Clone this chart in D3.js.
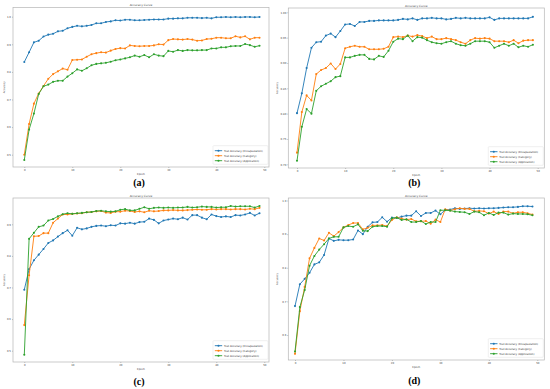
<!DOCTYPE html>
<html><head><meta charset="utf-8">
<script src="https://cdn.jsdelivr.net/npm/d3@7"></script>
<style>body{margin:0;background:#fff}svg{display:block}</style>
</head><body><svg id="c" width="550" height="389"></svg>
<script>
const epochs = [0,1,2,3,4,5,6,7,8,9,10,11,12,13,14,15,16,17,18,19,20,21,22,23,24,25,26,27,28,29,30,31,32,33,34,35,36,37,38,39,40,41,42,43,44,45,46,47,48,49];
const xTicks = [0,10,20,30,40,50];
const seriesNames = ["Test Accuracy (Encapsulation)","Test Accuracy (Category)","Test Accuracy (Application)"];
const colors = ["#1f77b4","#ff7f0e","#2ca02c"];
const captions = ["(a)","(b)","(c)","(d)"];

const aEnc = [0.836,0.871,0.907,0.913,0.928,0.935,0.938,0.947,0.949,0.958,0.963,0.967,0.965,0.967,0.970,0.976,0.976,0.981,0.983,0.987,0.986,0.989,0.989,0.987,0.987,0.988,0.989,0.990,0.990,0.990,0.993,0.993,0.994,0.994,0.996,0.996,0.996,0.995,0.996,0.994,0.998,0.998,0.999,0.998,0.999,0.998,0.999,0.999,0.998,0.999];
const aCat = [0.500,0.611,0.685,0.722,0.749,0.775,0.792,0.802,0.812,0.808,0.843,0.844,0.845,0.855,0.864,0.868,0.871,0.870,0.877,0.883,0.886,0.885,0.896,0.894,0.893,0.894,0.894,0.896,0.900,0.899,0.915,0.919,0.918,0.917,0.919,0.917,0.913,0.914,0.919,0.920,0.924,0.924,0.922,0.922,0.929,0.925,0.929,0.918,0.924,0.924];
const aApp = [0.481,0.591,0.649,0.720,0.748,0.754,0.764,0.768,0.768,0.783,0.795,0.809,0.804,0.813,0.824,0.829,0.831,0.833,0.837,0.842,0.845,0.849,0.853,0.859,0.855,0.861,0.853,0.864,0.859,0.857,0.876,0.873,0.879,0.876,0.879,0.878,0.878,0.879,0.879,0.885,0.885,0.889,0.889,0.893,0.894,0.894,0.901,0.897,0.891,0.895];

const bEnc = [0.801,0.840,0.890,0.930,0.941,0.942,0.954,0.958,0.951,0.963,0.976,0.977,0.973,0.981,0.981,0.983,0.983,0.984,0.984,0.984,0.984,0.985,0.987,0.986,0.988,0.985,0.988,0.988,0.989,0.988,0.988,0.986,0.987,0.989,0.988,0.989,0.988,0.988,0.988,0.988,0.990,0.985,0.988,0.988,0.988,0.988,0.988,0.988,0.988,0.991];
const bCat = [0.723,0.803,0.836,0.826,0.878,0.886,0.890,0.899,0.888,0.898,0.929,0.932,0.934,0.932,0.932,0.927,0.927,0.927,0.928,0.932,0.951,0.952,0.951,0.954,0.952,0.955,0.953,0.949,0.952,0.947,0.947,0.949,0.947,0.945,0.941,0.938,0.945,0.949,0.948,0.949,0.948,0.943,0.943,0.943,0.941,0.945,0.939,0.944,0.945,0.945];
const bApp = [0.707,0.774,0.809,0.800,0.845,0.854,0.859,0.864,0.872,0.874,0.911,0.911,0.914,0.916,0.916,0.908,0.907,0.914,0.912,0.924,0.942,0.948,0.947,0.954,0.943,0.951,0.950,0.945,0.941,0.939,0.938,0.941,0.943,0.938,0.935,0.934,0.938,0.943,0.943,0.943,0.941,0.930,0.934,0.938,0.934,0.938,0.931,0.934,0.932,0.936];

const cEnc = [0.693,0.758,0.786,0.804,0.822,0.841,0.849,0.861,0.872,0.881,0.864,0.889,0.884,0.887,0.892,0.895,0.896,0.894,0.897,0.896,0.903,0.902,0.905,0.902,0.907,0.908,0.918,0.914,0.903,0.912,0.915,0.918,0.916,0.921,0.915,0.929,0.929,0.921,0.916,0.931,0.926,0.923,0.925,0.923,0.929,0.928,0.931,0.936,0.928,0.935];
const cCat = [0.581,0.739,0.862,0.863,0.872,0.872,0.905,0.918,0.931,0.931,0.933,0.934,0.935,0.938,0.939,0.941,0.942,0.937,0.936,0.940,0.940,0.943,0.942,0.939,0.941,0.938,0.943,0.941,0.942,0.944,0.944,0.945,0.944,0.944,0.945,0.946,0.947,0.946,0.946,0.948,0.947,0.948,0.948,0.947,0.948,0.948,0.947,0.949,0.948,0.952];
const cApp = [0.487,0.854,0.873,0.892,0.896,0.912,0.917,0.925,0.932,0.935,0.933,0.935,0.936,0.938,0.939,0.942,0.943,0.941,0.940,0.941,0.946,0.948,0.944,0.944,0.949,0.954,0.949,0.952,0.953,0.952,0.953,0.952,0.953,0.953,0.955,0.953,0.954,0.956,0.955,0.955,0.953,0.954,0.954,0.958,0.956,0.957,0.957,0.957,0.953,0.958];

const dEnc = [0.686,0.751,0.767,0.785,0.810,0.816,0.838,0.887,0.880,0.883,0.882,0.882,0.884,0.911,0.900,0.922,0.935,0.936,0.950,0.937,0.949,0.948,0.952,0.955,0.955,0.968,0.954,0.963,0.963,0.970,0.959,0.972,0.973,0.977,0.975,0.976,0.977,0.976,0.977,0.976,0.977,0.977,0.978,0.979,0.980,0.980,0.981,0.983,0.983,0.982];
const dCat = [0.544,0.671,0.743,0.828,0.859,0.887,0.881,0.904,0.894,0.906,0.920,0.927,0.933,0.933,0.914,0.919,0.926,0.926,0.927,0.924,0.942,0.950,0.946,0.943,0.945,0.938,0.938,0.939,0.931,0.943,0.936,0.974,0.970,0.974,0.977,0.975,0.975,0.968,0.969,0.968,0.961,0.967,0.960,0.967,0.967,0.962,0.965,0.965,0.962,0.958];
const dApp = [0.551,0.683,0.734,0.806,0.835,0.854,0.870,0.887,0.892,0.892,0.920,0.924,0.922,0.929,0.910,0.909,0.922,0.924,0.924,0.922,0.947,0.949,0.942,0.944,0.936,0.936,0.939,0.930,0.936,0.936,0.971,0.971,0.970,0.967,0.966,0.965,0.960,0.967,0.965,0.956,0.963,0.957,0.964,0.964,0.958,0.961,0.960,0.960,0.959,0.956];

const aYTicks = [0.5,0.6,0.7,0.8,0.9,1.0];
const bYTicks = [0.70,0.75,0.80,0.85,0.90,0.95,1.00];
const cYTicks = [0.5,0.6,0.7,0.8,0.9];
const dYTicks = [0.6,0.7,0.8,0.9,1.0];

const panels = [
  {series:[aEnc,aCat,aApp], yTicks:aYTicks, fmt:".1f", frame:[13,269,7.5,167], xr:[24.3,264.3], yd:[0.5,1.0], yr:[154.7,16.7], capY:186, ylx:4.5},
  {series:[bEnc,bCat,bApp], yTicks:bYTicks, fmt:".2f", frame:[288.3,544.3,8,168], xr:[297,537.7], yd:[0.70,1.00], yr:[164.3,12.3], capY:186, ylx:277.5},
  {series:[cEnc,cCat,cApp], yTicks:cYTicks, fmt:".1f", frame:[13,269,198,362], xr:[24.3,264.3], yd:[0.5,0.9], yr:[350.7,224.3], capY:385, ylx:4.5},
  {series:[dEnc,dCat,dApp], yTicks:dYTicks, fmt:".1f", frame:[288.3,544.3,198,360], xr:[295,537.3], yd:[0.6,1.0], yr:[335,200.5], capY:384, ylx:278}
];

const svg = d3.select("#c");
const FS = 2.6;
const tf = "DejaVu Sans, sans-serif";

panels.forEach((p, pi) => {
  const [fx0, fx1, fy0, fy1] = p.frame;
  const g = svg.append("g");
  const x = d3.scaleLinear().domain([0,50]).range(p.xr);
  const y = d3.scaleLinear().domain(p.yd).range(p.yr);

  // x axis
  const xa = g.append("g").attr("transform", `translate(0,${fy1})`)
    .call(d3.axisBottom(x).tickValues(xTicks).tickFormat(d3.format("d")).tickSize(1).tickPadding(1));
  xa.select(".domain").remove();
  xa.selectAll("line").attr("stroke","#555").attr("stroke-width",0.4);
  xa.selectAll("text").attr("font-size",FS).attr("font-family",tf).attr("fill","#444");

  const ya = g.append("g").attr("transform", `translate(${fx0},0)`)
    .call(d3.axisLeft(y).tickValues(p.yTicks).tickFormat(d3.format(p.fmt)).tickSize(1).tickPadding(1));
  ya.select(".domain").remove();
  ya.selectAll("line").attr("stroke","#555").attr("stroke-width",0.4);
  ya.selectAll("text").attr("font-size",FS).attr("font-family",tf).attr("fill","#444");

  // frame
  g.append("rect").attr("x",fx0).attr("y",fy0).attr("width",fx1-fx0).attr("height",fy1-fy0)
    .attr("fill","none").attr("stroke","#b5b5b5").attr("stroke-width",0.7);

  const cx = (fx0+fx1)/2;
  g.append("text").attr("x",cx).attr("y",fy0-1.3).attr("text-anchor","middle")
    .attr("font-size",2.9).attr("font-family",tf).attr("fill","#444").text("Accuracy Curve");
  g.append("text").attr("x",cx).attr("y",fy1+7.6).attr("text-anchor","middle")
    .attr("font-size",FS).attr("font-family",tf).attr("fill","#444").text("Epoch");
  g.append("text").attr("transform",`translate(${p.ylx},${(fy0+fy1)/2}) rotate(-90)`).attr("text-anchor","middle")
    .attr("font-size",FS).attr("font-family",tf).attr("fill","#444").text("Accuracy");

  // series
  p.series.forEach((s, si) => {
    const line = d3.line().x((d,i)=>x(epochs[i])).y(d=>y(d));
    g.append("path").datum(s).attr("d",line).attr("fill","none")
      .attr("stroke",colors[si]).attr("stroke-width",0.9).attr("stroke-linejoin","round");
    g.selectAll(null).data(s).enter().append("circle")
      .attr("cx",(d,i)=>x(epochs[i])).attr("cy",d=>y(d)).attr("r",1.05).attr("fill",colors[si]);
  });

  // legend
  const lw = 55, lh = 18.6;
  const lx = fx1 - 1 - lw, ly = fy1 - 2.7 - lh;
  const lg = g.append("g");
  lg.append("rect").attr("x",lx).attr("y",ly).attr("width",lw).attr("height",lh).attr("rx",0.8)
    .attr("fill","#fff").attr("stroke","#d8d8d8").attr("stroke-width",0.4);
  seriesNames.forEach((n, si) => {
    const yy = ly + 5 + si*5;
    lg.append("line").attr("x1",lx+1.8).attr("x2",lx+9.2).attr("y1",yy).attr("y2",yy)
      .attr("stroke",colors[si]).attr("stroke-width",0.9);
    lg.append("circle").attr("cx",lx+5.5).attr("cy",yy).attr("r",1.05).attr("fill",colors[si]);
    lg.append("text").attr("x",lx+11).attr("y",yy+0.9).attr("font-size",FS).attr("font-family",tf)
      .attr("fill","#333").text(n);
  });

  // caption
  svg.append("text").attr("x",cx-2).attr("y",p.capY).attr("text-anchor","middle")
    .attr("font-size",10).attr("font-weight","bold").attr("font-family","Liberation Serif, serif")
    .attr("fill","#000").text(captions[pi]);
});
</script></body></html>
